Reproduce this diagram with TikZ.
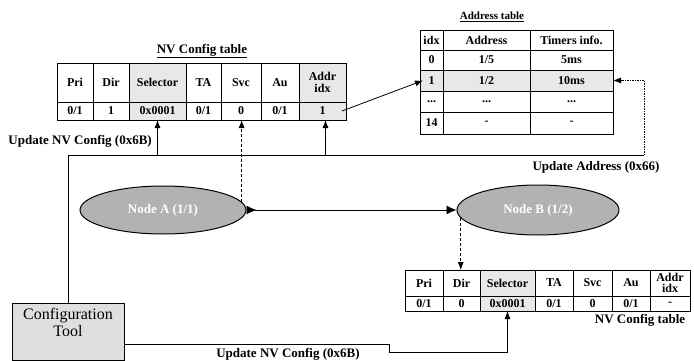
\documentclass[tikz,border=0pt]{standalone}
\usepackage{fontspec}
\setmainfont{Liberation Serif}
\usetikzlibrary{arrows.meta,shapes.geometric}
\tikzset{
  cell/.style={draw, line width=0.9pt, inner sep=0pt, outer sep=0pt, anchor=north west, align=center,
    font=\fontsize{12}{11.5}\selectfont\bfseries},
  shd/.style={fill=gray!18},
  lbl/.style={font=\fontsize{13}{15}\selectfont\bfseries, inner sep=0pt},
  conn/.style={line width=0.8pt},
  tip/.style={-{Latex[length=8pt,width=6pt]}},
  dsh/.style={dash pattern=on 3pt off 2pt},
  dot/.style={dash pattern=on 1.5pt off 1pt},
  nodeell/.style={ellipse, draw, line width=1pt, fill=gray!60, inner sep=0pt,
    text=white, font=\fontsize{13}{15}\selectfont\bfseries},
  toolbox/.style={draw, line width=1pt, fill=gray!25, inner sep=0pt, minimum width=112pt, minimum height=57pt},
}
\begin{document}
\begin{tikzpicture}[x=1pt,y=-1pt]
\useasboundingbox (0,0) rectangle (694,361);

% ---------- top NV Config table ----------
\node[lbl] (t1title) at (202,51) {\underline{NV Config table}};
\begin{scope}[every node/.append style={minimum height=39pt}]
\node[cell,minimum width=36pt] (t1h1) at (57,63) {Pri};
\node[cell,minimum width=36pt] (t1h2) at (93,63) {Dir};
\node[cell,shd,minimum width=57pt] (t1h3) at (129,63) {Selector};
\node[cell,minimum width=35pt] (t1h4) at (186,63) {TA};
\node[cell,minimum width=40pt] (t1h5) at (221,63) {Svc};
\node[cell,minimum width=38pt] (t1h6) at (261,63) {Au};
\node[cell,shd,minimum width=47pt] (t1h7) at (299,63) {Addr\\idx};
\end{scope}
\begin{scope}[every node/.append style={minimum height=18pt}]
\node[cell,minimum width=36pt] (t1v1) at (57,102) {0/1};
\node[cell,minimum width=36pt] (t1v2) at (93,102) {1};
\node[cell,shd,minimum width=57pt] (t1v3) at (129,102) {0x0001};
\node[cell,minimum width=35pt] (t1v4) at (186,102) {0/1};
\node[cell,minimum width=40pt] (t1v5) at (221,102) {0};
\node[cell,minimum width=38pt] (t1v6) at (261,102) {0/1};
\node[cell,shd,minimum width=47pt] (t1v7) at (299,102) {1};
\end{scope}

% ---------- Address table ----------
\node[lbl,font=\fontsize{11}{13}\selectfont\bfseries] (atitle) at (492,17) {\underline{Address table}};
\node[cell,minimum width=23pt,minimum height=20pt] (a01) at (420,30) {idx};
\node[cell,minimum width=87pt,minimum height=20pt] (a02) at (443,30) {Address};
\node[cell,minimum width=83pt,minimum height=20pt] (a03) at (530,30) {Timers info.};
\node[cell,minimum width=23pt,minimum height=20pt] (a11) at (420,50) {0};
\node[cell,minimum width=87pt,minimum height=20pt] (a12) at (443,50) {1/5};
\node[cell,minimum width=83pt,minimum height=20pt] (a13) at (530,50) {5ms};
\node[cell,shd,minimum width=23pt,minimum height=21pt] (a21) at (420,70) {1};
\node[cell,shd,minimum width=87pt,minimum height=21pt] (a22) at (443,70) {1/2};
\node[cell,shd,minimum width=83pt,minimum height=21pt] (a23) at (530,70) {10ms};
\node[cell,minimum width=23pt,minimum height=21pt] (a31) at (420,91) {...};
\node[cell,minimum width=87pt,minimum height=21pt] (a32) at (443,91) {...};
\node[cell,minimum width=83pt,minimum height=21pt] (a33) at (530,91) {...};
\node[cell,minimum width=23pt,minimum height=22pt] (a41) at (420,112) {14};
\node[cell,minimum width=87pt,minimum height=22pt] (a42) at (443,112) {-};
\node[cell,minimum width=83pt,minimum height=22pt] (a43) at (530,112) {-};

% ---------- bottom NV Config table ----------
\begin{scope}[every node/.append style={minimum height=26pt}]
\node[cell,minimum width=38pt] (t2h1) at (405,270) {Pri};
\node[cell,minimum width=37pt] (t2h2) at (443,270) {Dir};
\node[cell,shd,minimum width=55pt] (t2h3) at (480,270) {Selector};
\node[cell,minimum width=38pt] (t2h4) at (535,270) {TA};
\node[cell,minimum width=39pt] (t2h5) at (573,270) {Svc};
\node[cell,minimum width=38pt] (t2h6) at (612,270) {Au};
\node[cell,minimum width=40pt] (t2h7) at (650,270) {Addr\\idx};
\end{scope}
\begin{scope}[every node/.append style={minimum height=15pt}]
\node[cell,minimum width=38pt] (t2v1) at (405,296) {0/1};
\node[cell,minimum width=37pt] (t2v2) at (443,296) {0};
\node[cell,shd,minimum width=55pt] (t2v3) at (480,296) {0x0001};
\node[cell,minimum width=38pt] (t2v4) at (535,296) {0/1};
\node[cell,minimum width=39pt] (t2v5) at (573,296) {0};
\node[cell,minimum width=38pt] (t2v6) at (612,296) {0/1};
\node[cell,minimum width=40pt] (t2v7) at (650,296) {-};
\end{scope}
\node[lbl] (t2title) at (640,320) {NV Config table};

% ---------- nodes ----------
\node[nodeell,minimum width=166pt,minimum height=48pt] (nodeA) at (163,210) {Node A (1/1)};
\node[nodeell,minimum width=162pt,minimum height=50pt] (nodeB) at (538,210) {Node B (1/2)};
\node[toolbox] (tool) at (68,331.5) {};
\node[font=\fontsize{16}{17}\selectfont, align=center, inner sep=0pt] (tooltxt) at (68,322) {Configuration\\Tool};

% ---------- labels ----------
\node[lbl,anchor=east] (lblnv1) at (152,141) {Update NV Config (0x6B)};
\node[lbl] (lbladdr) at (596,167) {Update Address (0x66)};
\node[lbl] (lblnv2) at (288,354) {Update NV Config (0x6B)};

% ---------- connectors ----------
\coordinate (busR) at (644,155);
\draw[conn] (tool.north) |- (busR);
\draw[conn,tip] (t1v3.south |- busR) -- (t1v3.south);
\draw[conn,tip] ([xshift=3pt]t1v7.south |- busR) -- ([xshift=3pt]t1v7.south);
\draw[conn,dot,tip] (busR) |- (a23.east);
\draw[conn,dsh,tip] (nodeA.6) -- (nodeA.6 |- t1v5.south);
\draw[conn,tip] ([xshift=-4pt]t1v7.east) -- ([xshift=3pt]a21.west);
\draw[conn,{Latex[reversed,length=10pt,width=9pt]}-{Latex[length=10pt,width=9pt]}] (nodeA.east) -- (nodeB.west);
\draw[conn,dsh,tip] (nodeB.186) -- (nodeB.186 |- t2h2.north);
\coordinate (k1) at (389,344);
\coordinate (k2) at (389,352);
\draw[conn,tip] ([yshift=-12.5pt]tool.east) -- (k1) -- (k2) -| (t2v3.south);
\end{tikzpicture}
\end{document}
